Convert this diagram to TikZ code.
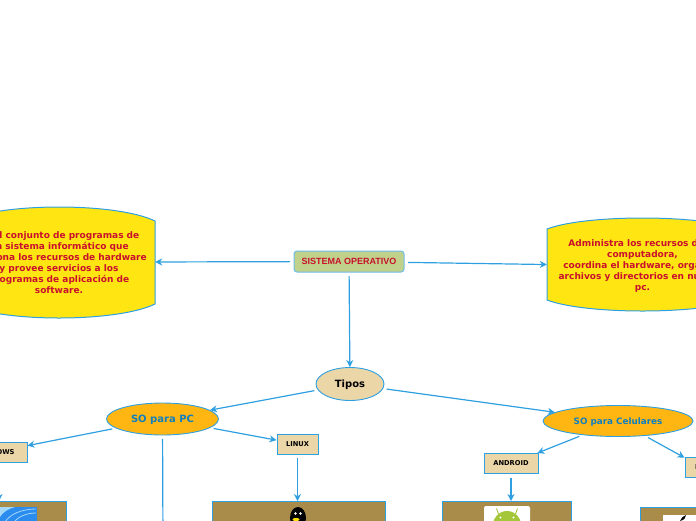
\documentclass[tikz,border=0pt]{standalone}
\usepackage{fontspec}
\usepackage{xcolor}
\usetikzlibrary{arrows.meta,shapes.geometric}
\setmainfont{DejaVu Sans}
\newfontfamily\titlefont{Liberation Sans}
\definecolor{linescolor}{HTML}{2E9FE0}
\definecolor{blobbg}{HTML}{FFE612}
\definecolor{blobfg}{HTML}{C8102E}
\definecolor{rootbg}{HTML}{BFD18A}
\definecolor{tipobg}{HTML}{EBD6A8}
\definecolor{sobg}{HTML}{FFB612}
\definecolor{sofg}{HTML}{0F7FBF}
\definecolor{picbg}{HTML}{A98B4A}
\definecolor{droidgreen}{HTML}{A4C639}
\definecolor{swirlbg}{HTML}{2A8CEE}
\definecolor{swirlfg}{HTML}{A5D8F7}
\newcommand{\blobfont}{\bfseries\fontsize{9}{11}\selectfont}
\newcommand{\labelfont}{\bfseries\fontsize{6.7}{8}\selectfont}
% left, right, top, bottom, rise
\newcommand{\drawblob}[5]{
	\draw[blobline] (#1,#3+#5) .. controls (#1+0.2*#2-0.2*#1,#3-#5/3) and (#2-0.2*#2+0.2*#1,#3-#5/3) .. (#2,#3+#5)
		-- (#2,#4-#5) .. controls (#2-0.2*#2+0.2*#1,#4+#5/3) and (#1+0.2*#2-0.2*#1,#4+#5/3) .. (#1,#4-#5) -- cycle;
}
\tikzset{
	blobline/.style={draw=linescolor,fill=blobbg,line width=1pt},
	blobtext/.style={text=blobfg,font=\blobfont,align=center,inner sep=0pt},
	rootbox/.style={draw=linescolor!70,fill=rootbg,rounded corners=3pt,line width=1pt,inner sep=0pt,
		minimum width=110pt,minimum height=21pt,text=blobfg,font=\titlefont\bfseries\fontsize{9}{11}\selectfont},
	tipoell/.style={ellipse,draw=linescolor,fill=tipobg,line width=0.9pt,inner sep=0pt,text height=7pt,text depth=0pt,
		minimum width=68pt,minimum height=33pt,font=\bfseries\fontsize{10}{12}\selectfont},
	soell/.style={ellipse,draw=linescolor,fill=sobg,line width=0.9pt,inner sep=0pt,text=sofg,text height=7pt,text depth=0pt},
	sobox/.style={draw=linescolor,fill=tipobg,line width=1pt,inner sep=0pt,minimum height=20pt,font=\labelfont},
	picbox/.style={draw=linescolor,fill=picbg,line width=1pt,inner sep=0pt,anchor=north,minimum height=120pt},
	link/.style={draw=linescolor,line width=1.2pt,-{Stealth[length=7pt,width=7pt]},shorten <=3.5pt},
}

\begin{document}
\begin{tikzpicture}[yscale=-1,x=1pt,y=1pt]

\useasboundingbox (0,0) rectangle (696,520);
\clip (0,0) rectangle (696,520);

% side blobs
\drawblob{-37}{155}{207}{318}{14}
\drawblob{547}{738}{218}{311}{11}

\node [rootbox] (sistema) at (349,261.5) {SISTEMA OPERATIVO};
\node [blobtext,minimum width=192pt,minimum height=111pt] (defin) at (59,262.2) {
	Es el conjunto de programas de\\
	un sistema informático que\\
	gestiona los recursos de hardware\\
	y provee servicios a los\\
	programas de aplicación de\\
	software.
};
\node [blobtext,minimum width=191pt,minimum height=93pt] (admin) at (642.5,266) {
	Administra los recursos de la\\
	computadora,\\
	coordina el hardware, organiza\\
	archivos y directorios en nuestra\\
	pc.
};

% types
\node [tipoell] (tipos) at (350,384) {Tipos};
\node [soell,minimum width=112pt,minimum height=32pt,font=\bfseries\fontsize{10}{12}\selectfont] (sopc) at (162.5,419) {SO para PC};
\node [soell,minimum width=150pt,minimum height=31pt,font=\bfseries\fontsize{8.8}{11}\selectfont] (socel) at (618,421) {SO para Celulares};

% labels
\node [sobox,minimum width=64pt] (windows) at (-5,452) {WINDOWS};
\node [sobox,minimum width=41pt] (linux) at (297.5,444) {LINUX};
\node [sobox,minimum width=54pt] (android) at (511,463.5) {ANDROID};
\node [sobox,minimum width=33pt] (ios) at (701.5,467) {IOS};

% picture frames
\node [picbox,minimum width=134pt] (picwindows) at (-1,501) {};
\node [picbox,minimum width=173pt] (piclinux) at (298.5,501) {};
\node [picbox,minimum width=129pt] (picandroid) at (506.5,501) {};
\node [picbox,minimum width=130pt] (picios) at (705,507) {};

% windows
\fill[swirlbg] (0,507) rectangle (37,525);
\fill[swirlfg] (0,507) -- (15,507) .. controls (8,509) and (3,512) .. (0,517) -- cycle;
\draw[swirlfg,line width=0.8pt] (5,522) .. controls (10,514) and (22,509) .. (36,509);
\draw[swirlfg,line width=0.8pt] (14,522) .. controls (18,517) and (26,513) .. (36,513);
% penguin
\fill[black] (298,518) ellipse (8 and 11);
\fill[white] (295.5,513.5) circle (1.3) (300.5,513.5) circle (1.3);
\fill[yellow!80!orange] (296,519.5) ellipse (3.5 and 1.6);
% android
\fill[white,rounded corners=2pt] (484,506) rectangle (530,530);
\fill[droidgreen] (493,525) arc[start angle=180,end angle=360,x radius=14,y radius=14] -- cycle;
\draw[droidgreen,line width=0.9pt] (498.5,514) -- (496.5,508.5) (515.5,514) -- (517.5,508.5);
\fill[white] (500.5,517.5) circle (1.1) (513.5,517.5) circle (1.1);
% apple
\fill[white] (663,515) rectangle (720,530);
\fill[black] (680,521) .. controls (681,518) and (683,516) .. (686,515) .. controls (686,518) and (684,520) .. (680,521) -- cycle;

% free end of the middle branch
\coordinate (sopcfin) at (163,545);

% links
\draw[link] (sistema) -- (defin);
\draw[link] (sistema) -- (admin);
\draw[link] (sistema) -- (tipos);
\draw[link] (tipos) -- (sopc);
\draw[link] (tipos) -- (socel);
\draw[link] (sopc) -- (windows);
\draw[link] (sopc) -- (linux);
\draw[link] (sopc) -- (sopcfin);
\draw[link] (socel) -- (android);
\draw[link] (socel) -- (ios);
\draw[link] (picwindows.north |- windows.south) -- (picwindows.north);
\draw[link] (linux.south) -- (linux.south |- piclinux.north);
\draw[link] (android.south) -- (android.south |- picandroid.north);
\draw[link] (ios.south) -- (ios.south |- picios.north);

\end{tikzpicture}
\end{document}
